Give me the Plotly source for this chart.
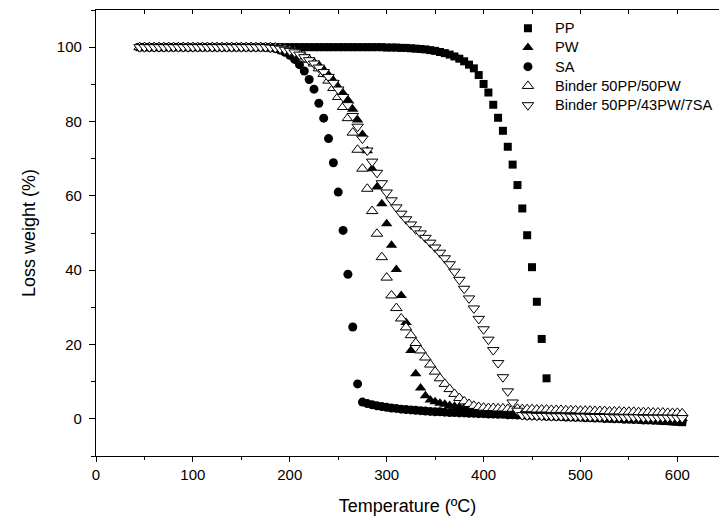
import plotly.graph_objects as go

# Temperature grid (degC)
temperature = [
    45, 50, 55, 60, 65, 70, 75, 80, 85, 90,
    95, 100, 105, 110, 115, 120, 125, 130, 135, 140,
    145, 150, 155, 160, 165, 170, 175, 180, 185, 190,
    195, 200, 205, 210, 215, 220, 225, 230, 235, 240,
    245, 250, 255, 260, 265, 270, 275, 280, 285, 290,
    295, 300, 305, 310, 315, 320, 325, 330, 335, 340,
    345, 350, 355, 360, 365, 370, 375, 380, 385, 390,
    395, 400, 405, 410, 415, 420, 425, 430, 435, 440,
    445, 450, 455, 460, 465, 470, 475, 480, 485, 490,
    495, 500, 505, 510, 515, 520, 525, 530, 535, 540,
    545, 550, 555, 560, 565, 570, 575, 580, 585, 590,
    595, 600, 605,
]

pp = [
    100.0, 100.0, 100.0, 100.0, 100.0, 100.0, 100.0, 100.0, 100.0, 100.0,
    100.0, 100.0, 100.0, 100.0, 100.0, 100.0, 100.0, 100.0, 100.0, 100.0,
    100.0, 100.0, 100.0, 100.0, 100.0, 100.0, 100.0, 100.0, 100.0, 100.0,
    100.0, 100.0, 100.0, 100.0, 100.0, 100.0, 100.0, 100.0, 100.0, 100.0,
    100.0, 100.0, 100.0, 100.0, 100.0, 100.0, 100.0, 100.0, 100.0, 100.0,
    100.0, 99.9, 99.9, 99.9, 99.8, 99.8, 99.7, 99.6, 99.5, 99.4,
    99.2, 99.0, 98.7, 98.4, 98.0, 97.5, 96.9, 96.2, 95.3, 94.3,
    92.5, 90.1, 87.8, 84.5, 81.0, 77.5, 73.2, 68.4, 62.9, 56.6,
    49.4, 40.8, 31.5, 21.5, 10.9, 1.9, 1.8, 1.7, 1.6, 1.5,
    1.4, 1.3, 1.2, 1.1, 1.0, 0.9, 0.8, 0.7, 0.6, 0.5,
    0.4, 0.2, 0.1, 0.0, -0.1, -0.2, -0.3, -0.4, -0.5, -0.6,
    -0.7, -0.8, -0.9,
]

pw = [
    100.0, 100.0, 100.0, 100.0, 100.0, 100.0, 100.0, 100.0, 100.0, 100.0,
    100.0, 100.0, 100.0, 100.0, 100.0, 100.0, 100.0, 100.0, 100.0, 100.0,
    100.0, 100.0, 100.0, 100.0, 100.0, 100.0, 99.9, 99.8, 99.7, 99.5,
    99.3, 99.0, 98.6, 98.1, 97.5, 96.8, 96.0, 95.2, 94.0, 92.6,
    91.0, 89.3, 87.6, 85.8, 83.3, 80.4, 76.5, 72.1, 67.3, 62.4,
    57.9, 52.5, 46.7, 40.2, 33.2, 25.9, 18.4, 12.1, 8.3, 6.2,
    5.1, 4.6, 4.2, 3.9, 3.6, 3.4, 3.2, 3.0, 2.9, 2.8,
    2.7, 2.6, 2.5, 2.4, 2.3, 2.2, 2.1, 2.0, 1.9, 1.8,
    1.7, 1.7, 1.6, 1.6, 1.5, 1.5, 1.4, 1.4, 1.3, 1.3,
    1.2, 1.2, 1.1, 1.1, 1.0, 1.0, 0.9, 0.9, 0.8, 0.8,
    0.7, 0.7, 0.6, 0.6, 0.5, 0.5, 0.4, 0.4, 0.3, 0.3,
    0.2, 0.2, 0.1,
]

sa = [
    100.0, 100.0, 100.0, 100.0, 100.0, 100.0, 100.0, 100.0, 100.0, 100.0,
    100.0, 100.0, 100.0, 100.0, 100.0, 100.0, 100.0, 100.0, 100.0, 100.0,
    100.0, 100.0, 100.0, 100.0, 100.0, 100.0, 99.9, 99.8, 99.6, 99.2,
    98.6, 97.8, 96.7, 95.3, 93.6, 91.3, 88.7, 84.9, 80.9, 75.4,
    68.9, 61.0, 50.7, 38.9, 24.7, 9.4, 4.5, 4.1, 3.8, 3.5,
    3.3, 3.1, 2.9, 2.8, 2.6, 2.5, 2.4, 2.3, 2.2, 2.1,
    2.0, 1.9, 1.9, 1.8, 1.7, 1.7, 1.6, 1.6, 1.5, 1.5,
    1.4, 1.4, 1.3, 1.3, 1.2, 1.2, 1.1, 1.1, 1.0, 1.0,
    0.9, 0.9, 0.8, 0.8, 0.7, 0.7, 0.6, 0.6, 0.5, 0.5,
    0.4, 0.4, 0.3, 0.3, 0.2, 0.2, 0.1, 0.1, 0.0, 0.0,
    -0.1, -0.1, -0.2, -0.2, -0.3, -0.3, -0.4, -0.4, -0.5, -0.5,
    -0.6, -0.6, -0.7,
]

binder_50pp_50pw = [
    100.0, 100.0, 100.0, 100.0, 100.0, 100.0, 100.0, 100.0, 100.0, 100.0,
    100.0, 100.0, 100.0, 100.0, 100.0, 100.0, 100.0, 100.0, 100.0, 100.0,
    100.0, 100.0, 100.0, 100.0, 100.0, 100.0, 100.0, 100.0, 99.9, 99.7,
    99.5, 99.2, 98.8, 98.2, 97.5, 96.6, 95.6, 94.3, 92.8, 91.0,
    89.0, 86.6, 83.9, 80.9, 77.0, 72.4, 67.3, 61.9, 55.9, 49.8,
    43.5, 38.0, 33.2, 29.8, 27.0, 24.6, 22.5, 20.4, 18.4, 16.5,
    14.6, 12.7, 10.9, 9.4, 8.0, 6.7, 5.6, 4.7, 4.0, 3.5,
    3.2, 3.0, 2.9, 2.9, 2.8, 2.8, 2.7, 2.7, 2.7, 2.6,
    2.6, 2.6, 2.5, 2.5, 2.5, 2.4, 2.4, 2.4, 2.3, 2.3,
    2.3, 2.2, 2.2, 2.2, 2.1, 2.1, 2.1, 2.0, 2.0, 2.0,
    1.9, 1.9, 1.9, 1.8, 1.8, 1.8, 1.7, 1.7, 1.7, 1.6,
    1.6, 1.6, 1.5,
]

binder_50pp_43pw_7sa = [
    100.0, 100.0, 100.0, 100.0, 100.0, 100.0, 100.0, 100.0, 100.0, 100.0,
    100.0, 100.0, 100.0, 100.0, 100.0, 100.0, 100.0, 100.0, 100.0, 100.0,
    100.0, 100.0, 100.0, 100.0, 100.0, 100.0, 100.0, 99.9, 99.8, 99.6,
    99.3, 99.0, 98.6, 98.0, 97.3, 96.5, 95.6, 94.5, 93.3, 92.0,
    90.4, 88.6, 86.6, 84.4, 81.5, 78.6, 75.4, 72.2, 69.2, 66.2,
    63.4, 60.9, 58.8, 56.9, 55.2, 53.7, 52.3, 51.0, 49.9, 48.7,
    47.4, 46.1, 44.7, 43.2, 41.6, 39.6, 37.4, 35.0, 32.4, 29.7,
    26.9, 24.1, 21.3, 18.5, 15.0, 11.2, 7.4, 4.4, 2.2, 1.0,
    0.9, 0.9, 0.8, 0.8, 0.8, 0.7, 0.7, 0.7, 0.7, 0.6,
    0.6, 0.6, 0.6, 0.5, 0.5, 0.5, 0.5, 0.5, 0.4, 0.4,
    0.4, 0.4, 0.4, 0.4, 0.3, 0.3, 0.3, 0.3, 0.3, 0.3,
    0.3, 0.2, 0.2,
]

series_names = ["PP", "PW", "SA", "Binder 50PP/50PW", "Binder 50PP/43PW/7SA"]
series_values = [pp, pw, sa, binder_50pp_50pw, binder_50pp_43pw_7sa]
symbols = ["square", "triangle-up", "circle", "triangle-up", "triangle-down"]
sizes = [8, 10, 9, 10, 10]
fills = ["black", "black", "black", "white", "white"]

FONT = "Arial, 'Liberation Sans', Helvetica, sans-serif"

fig = go.Figure()
for name, vals, sym, sz, fc in zip(series_names, series_values, symbols, sizes, fills):
    fig.add_trace(go.Scatter(
        x=temperature, y=vals, mode="markers",
        name='<span style="font-size:14.6px">' + name + '</span>',
        marker=dict(symbol=sym, size=sz, color=fc,
                    line=dict(color="black", width=1 if fc == "white" else 0)),
    ))

# empty trace to activate top mirror axis
fig.add_trace(go.Scatter(x=[], y=[], xaxis="x2", showlegend=False, hoverinfo="skip"))

x_range = [0, 643]
fig.update_layout(
    template="none",
    width=719, height=517,
    margin=dict(l=96, r=0, t=10, b=61, autoexpand=False),
    paper_bgcolor="white", plot_bgcolor="white",
    font=dict(family=FONT, color="black", size=14),
    showlegend=True,
    legend=dict(x=0.650, y=0.992, xanchor="left", yanchor="top",
                bgcolor="rgba(0,0,0,0)", borderwidth=0, itemwidth=44,
                font=dict(family=FONT, size=12.5, color="black"),
                tracegroupgap=0),
    xaxis=dict(
        range=x_range, tick0=0, dtick=100, ticks="outside", ticklen=5,
        tickwidth=1, tickcolor="black", showline=True, linecolor="black",
        linewidth=1.3, showgrid=False, zeroline=False, automargin=False,
        tickfont=dict(family=FONT, size=15), ticklabelstandoff=0,
        minor=dict(tick0=0, dtick=50, ticks="outside", ticklen=3,
                   tickcolor="black", showgrid=False),
        title=dict(text="Temperature (ºC)", font=dict(family=FONT, size=18),
                   standoff=17),
    ),
    xaxis2=dict(
        overlaying="x", side="top", anchor="y", range=x_range,
        tick0=0, dtick=50, ticks="inside", ticklen=4, tickcolor="black",
        showticklabels=False, showline=True, linecolor="black",
        linewidth=1.3, showgrid=False, zeroline=False, automargin=False,
    ),
    yaxis=dict(
        range=[-10, 110], tick0=0, dtick=20, ticks="outside", ticklen=6,
        tickwidth=1, tickcolor="black", showline=True, linecolor="black",
        linewidth=1.3, showgrid=False, zeroline=False, automargin=False,
        tickfont=dict(family=FONT, size=15), ticklabelstandoff=4,
        minor=dict(tick0=0, dtick=10, ticks="outside", ticklen=4,
                   tickcolor="black", showgrid=False),
        title=dict(text="Loss weight (%)", font=dict(family=FONT, size=18),
                   standoff=16),
    ),
)

fig.write_html("out.html", config={"displayModeBar": False},
               post_script="document.body.style.margin='0';document.body.style.overflow='hidden';")
